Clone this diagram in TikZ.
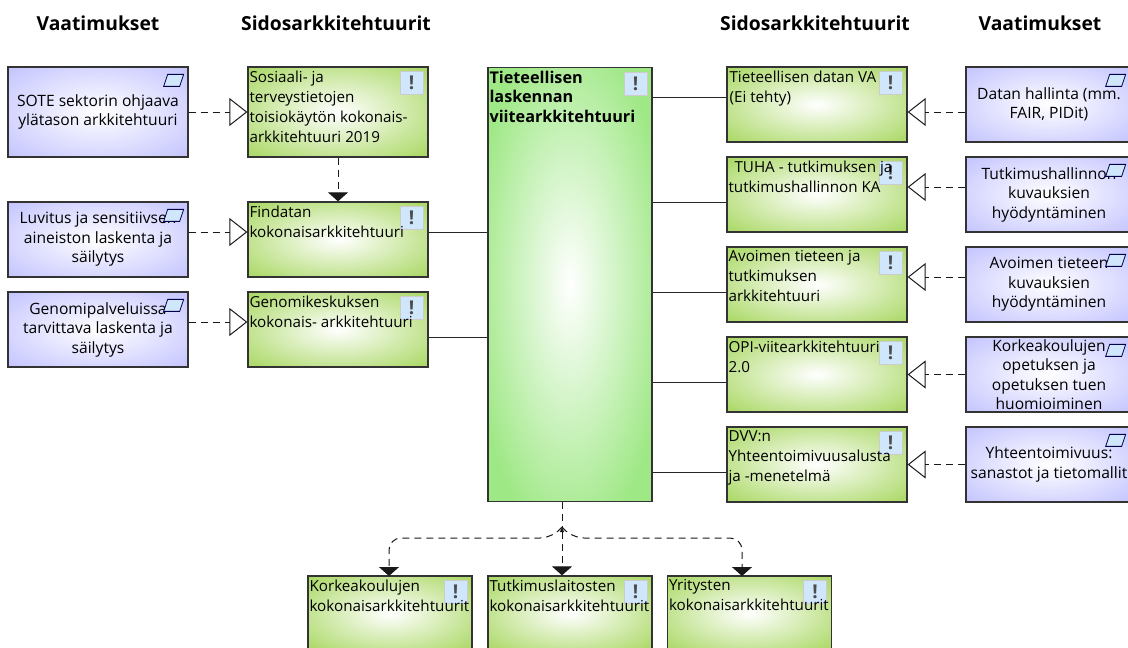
\documentclass[tikz,border=0pt]{standalone}
\usepackage{fontspec}
\setmainfont{Open Sans}
\usetikzlibrary{arrows.meta}

\definecolor{boxgreen}{HTML}{AEDA6C}
\definecolor{boxblue}{HTML}{C6C6FF}
\definecolor{boxmint}{HTML}{9FE886}
\definecolor{iconblue}{HTML}{CFE6FB}
\pgfdeclareradialshading{greenglow}{\pgfpoint{0bp}{0bp}}{color(0bp)=(white);color(33bp)=(boxgreen);color(50bp)=(boxgreen)}
\pgfdeclareradialshading{blueglow}{\pgfpoint{0bp}{0bp}}{color(0bp)=(white);color(34bp)=(boxblue);color(50bp)=(boxblue)}
\pgfdeclareradialshading{mintglow}{\pgfpoint{0bp}{0bp}}{color(0bp)=(white);color(30bp)=(boxmint);color(50bp)=(boxmint)}

\begin{document}
\begin{tikzpicture}
[x=1pt,y=-1pt]
\tikzstyle{title text}=[font=\fontsize{19.3}{21}\selectfont\bfseries]
\tikzstyle{box}=[draw=black!80,line width=1.3pt,inner sep=0,minimum width=180pt]
\tikzstyle{green box}=[box,shading=greenglow,minimum height=75pt]
\tikzstyle{blue box}=[box,shading=blueglow,minimum height=75pt,align=center,
  font=\fontsize{15.6}{19.5}\selectfont]
\tikzstyle{box text}=[anchor=north west,inner sep=0,align=left,
  font=\fontsize{15.2}{20}\selectfont]
\tikzstyle{warn icon}=[draw=black!20,fill=iconblue,inner sep=0,minimum size=23pt,
  font=\fontsize{19}{19}\selectfont\bfseries,text=black!70]
\tikzstyle{req icon}=[draw=blue!30!black,line width=.8pt,fill=iconblue]
\tikzstyle{dash line}=[dashed,dash pattern=on 7pt off 5pt,line width=1pt,black!90]
\tikzstyle{solid line}=[black!85,line width=.9pt]
\tikzstyle{open arrow}=[dash line,-{Triangle[open,length=18pt,width=28pt,line width=1pt]}]
\tikzstyle{full arrow}=[dash line,-{Triangle[length=9pt,width=20pt]}]

\useasboundingbox (0,0) rectangle (1128,648);
\clip (0,0) rectangle (1128,648);

\node(vaatl)[title text]at(98,23){Vaatimukset};
\node(sidosl)[title text]at(336,23){Sidosarkkitehtuurit};
\node(sidosr)[title text]at(815,23){Sidosarkkitehtuurit};
\node(vaatr)[title text]at(1040,23){Vaatimukset};

% vasen puoli
\node(sote)[blue box,minimum height=90pt]at(98,112){SOTE sektorin ohjaava\\ylätason arkkitehtuuri};
\node(luvitus)[blue box]at(98,239.5){Luvitus ja sensitiivsen\\aineiston laskenta ja\\säilytys};
\node(genomi)[blue box]at(98,329.5){Genomipalveluissa\\tarvittava laskenta ja\\säilytys};
\node(sosiaali)[green box,minimum height=90pt]at(338,112){};
\node(findata)[green box]at(338,239.5){};
\node(genomikeskus)[green box]at(338,329.5){};

% keskiosa
\node(viite)[box,shading=mintglow,minimum width=164pt,minimum height=434pt]at(570,284.5){};

% oikea puoli
\node(data)[green box]at(817,104.5){};
\node(tuha)[green box]at(817,194.5){};
\node(avoin)[green box]at(817,284.5){};
\node(opi)[green box]at(817,374.5){};
\node(dvv)[green box]at(817,464.5){};
\node(hallinta)[blue box,minimum width=166pt]at(1049,104.5){Datan hallinta (mm.\\FAIR, PIDit)};
\node(kuvaus)[blue box,minimum width=166pt]at(1049,194.5){Tutkimushallinnon\\kuvauksien\\hyödyntäminen};
\node(avoinkuvaus)[blue box,minimum width=166pt]at(1049,284.5){Avoimen tieteen\\kuvauksien\\hyödyntäminen};
\node(opetus)[blue box,minimum width=166pt]at(1049,374.5){Korkeakoulujen\\opetuksen ja\\opetuksen tuen\\huomioiminen};
\node(yhteen)[blue box,minimum width=166pt]at(1049,464.5){Yhteentoimivuus:\\sanastot ja tietomallit};

% alarivi
\node(korkea)[green box,minimum width=164pt]at(390,613.5){};
\node(tutkimus)[green box,minimum width=164pt]at(570,613.5){};
\node(yritys)[green box,minimum width=164pt]at(749.5,613.5){};

\foreach \boxname in {sosiaali,findata,genomikeskus,viite,data,tuha,avoin,opi,dvv,korkea,tutkimus,yritys}
  \node(warn\boxname)[warn icon]at([shift={(-17,16.5)}]\boxname.north east){!};
\foreach \boxname/\iconx in {sote/-15,luvitus/-15,genomi/-15,hallinta/-17,kuvaus/-17,avoinkuvaus/-17,opetus/-17,yhteen/-17}
  \draw[req icon,shift={(\boxname.north east)},shift={(\iconx,14)}](-10,6)--(6,6)--(10,-6)--(-6,-6)--cycle;

\node(sosiaalitext)[box text]at([shift={(2,4)}]sosiaali.north west){Sosiaali- ja\\terveystietojen\\toisiokäytön kokonais-\\arkkitehtuuri 2019};
\node(findatatext)[box text]at([shift={(2,4)}]findata.north west){Findatan\\kokonaisarkkitehtuuri};
\node(genomitext)[box text]at([shift={(2,4)}]genomikeskus.north west){Genomikeskuksen\\kokonais- arkkitehtuuri};
\node(viitetext)[box text,font=\fontsize{16.2}{19.5}\selectfont\bfseries]at([shift={(2,4)}]viite.north west){Tieteellisen\\laskennan\\viitearkkitehtuuri};
\node(datatext)[box text]at([shift={(3,4)}]data.north west){Tieteellisen datan VA\\(Ei tehty)};
\node(tuhatext)[box text]at([shift={(2,4)}]tuha.north west){\hspace{6pt}TUHA - tutkimuksen ja\\tutkimushallinnon KA};
\node(avointext)[box text]at([shift={(2,4)}]avoin.north west){Avoimen tieteen ja\\tutkimuksen\\arkkitehtuuri};
\node(opitext)[box text]at([shift={(2,4)}]opi.north west){OPI-viitearkkitehtuuri\\2.0};
\node(dvvtext)[box text]at([shift={(2,4)}]dvv.north west){DVV:n\\Yhteentoimivuusalusta\\ja -menetelmä};
\node(korkeatext)[box text]at([shift={(2,4)}]korkea.north west){Korkeakoulujen\\kokonaisarkkitehtuurit};
\node(tutkimustext)[box text]at([shift={(2,4)}]tutkimus.north west){Tutkimuslaitosten\\kokonaisarkkitehtuurit};
\node(yritystext)[box text]at([shift={(2,4)}]yritys.north west){Yritysten\\kokonaisarkkitehtuurit};

% vaatimukset
\draw[open arrow](sote.east)--(sosiaali.west);
\draw[open arrow]([yshift=7.5pt]luvitus.east)--([yshift=7.5pt]findata.west);
\draw[open arrow]([yshift=7.5pt]genomi.east)--([yshift=7.5pt]genomikeskus.west);
\draw[open arrow]([yshift=-7.5pt]hallinta.west)--([yshift=-7.5pt]data.east);
\draw[open arrow]([yshift=7.5pt]kuvaus.west)--([yshift=7.5pt]tuha.east);
\draw[open arrow]([yshift=7.5pt]avoinkuvaus.west)--([yshift=7.5pt]avoin.east);
\draw[open arrow](opetus.west)--(opi.east);
\draw[open arrow](yhteen.west)--(dvv.east);

% yhteydet keskelle
\draw[solid line]([yshift=7.5pt]findata.east)--([yshift=7.5pt]findata.east-|viite.west);
\draw[solid line]([yshift=-7.5pt]genomikeskus.east)--([yshift=-7.5pt]genomikeskus.east-|viite.west);
\draw[solid line]([yshift=7.5pt]data.west)--([yshift=7.5pt]data.west-|viite.east);
\draw[solid line]([yshift=-7.5pt]tuha.west)--([yshift=-7.5pt]tuha.west-|viite.east);
\draw[solid line]([yshift=-7.5pt]avoin.west)--([yshift=-7.5pt]avoin.west-|viite.east);
\draw[solid line]([yshift=-7.5pt]opi.west)--([yshift=-7.5pt]opi.west-|viite.east);
\draw[solid line]([yshift=-7.5pt]dvv.west)--([yshift=-7.5pt]dvv.west-|viite.east);

\draw[full arrow](sosiaali.south)--(findata.north);

% alarivin haarat
\coordinate(haara)at(562,527);
\draw[dash line]([xshift=-8pt]viite.south)--(haara);
\draw[full arrow,{Triangle[length=5pt,width=4pt]}-{Triangle[length=9pt,width=20pt]}](haara)--(haara|-tutkimus.north);
\draw[full arrow,rounded corners=12pt](haara)--(552,538)--(389,538)--(389,576);
\draw[full arrow,rounded corners=12pt](haara)--(572,538)--(742,538)--(742,576);
\end{tikzpicture}
\end{document}
